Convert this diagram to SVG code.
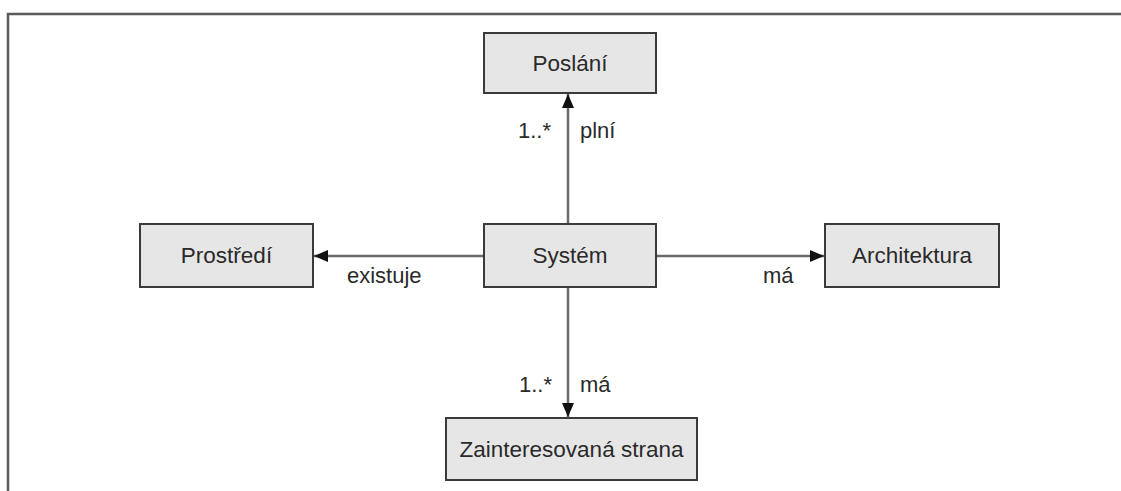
<svg xmlns="http://www.w3.org/2000/svg" width="1121" height="491" viewBox="0 0 1121 491">
  <style>
    .node rect { fill: #e6e6e6; stroke: #3a3a3a; stroke-width: 2; }
    .node text { font-family: "Liberation Sans", Arial, sans-serif; font-size: 22.5px; fill: #2a2a2a; text-anchor: middle; }
    .edge { stroke: #6a6a6a; stroke-width: 2.5; fill: none; }
    .lbl { font-family: "Liberation Sans", Arial, sans-serif; font-size: 22px; fill: #2a2a2a; }
    .frame { stroke: #5a5a5a; stroke-width: 2.5; fill: none; }
  </style>
  <defs>
    <marker id="arrow" viewBox="0 0 14 12" refX="14" refY="6" markerWidth="14" markerHeight="12" markerUnits="userSpaceOnUse" orient="auto">
      <path d="M0,0 L14,6 L0,12 Z" fill="#111"/>
    </marker>
  </defs>
  <rect width="1121" height="491" fill="#fff"/>
  <!-- outer frame (top and left edges) -->
  <path class="frame" d="M8,491 L8,14 L1121,14"/>

  <g id="connectors">
    <line class="edge" x1="568" y1="224" x2="568" y2="94" marker-end="url(#arrow)"/>
    <line class="edge" x1="484" y1="256" x2="314" y2="256" marker-end="url(#arrow)"/>
    <line class="edge" x1="656" y1="256" x2="824" y2="256" marker-end="url(#arrow)"/>
    <line class="edge" x1="568" y1="287" x2="568" y2="417" marker-end="url(#arrow)"/>
    <text class="lbl" x="518" y="138">1..*</text>
    <text class="lbl" x="580" y="138">plní</text>
    <text class="lbl" x="347" y="283">existuje</text>
    <text class="lbl" x="763" y="283">má</text>
    <text class="lbl" x="519" y="392">1..*</text>
    <text class="lbl" x="580" y="392">má</text>
  </g>

  <g id="poslani" class="node">
    <rect x="484" y="33" width="172" height="60"/>
    <text x="570" y="71">Poslání</text>
  </g>
  <g id="prostredi" class="node">
    <rect x="140" y="224" width="173" height="63"/>
    <text x="226.5" y="263">Prostředí</text>
  </g>
  <g id="system" class="node">
    <rect x="484" y="224" width="172" height="63"/>
    <text x="570" y="263">Systém</text>
  </g>
  <g id="architektura" class="node">
    <rect x="825" y="224" width="174" height="63"/>
    <text x="912" y="263">Architektura</text>
  </g>
  <g id="zainteresovana-strana" class="node">
    <rect x="446" y="418" width="251" height="62"/>
    <text x="571.5" y="457">Zainteresovaná strana</text>
  </g>
</svg>
